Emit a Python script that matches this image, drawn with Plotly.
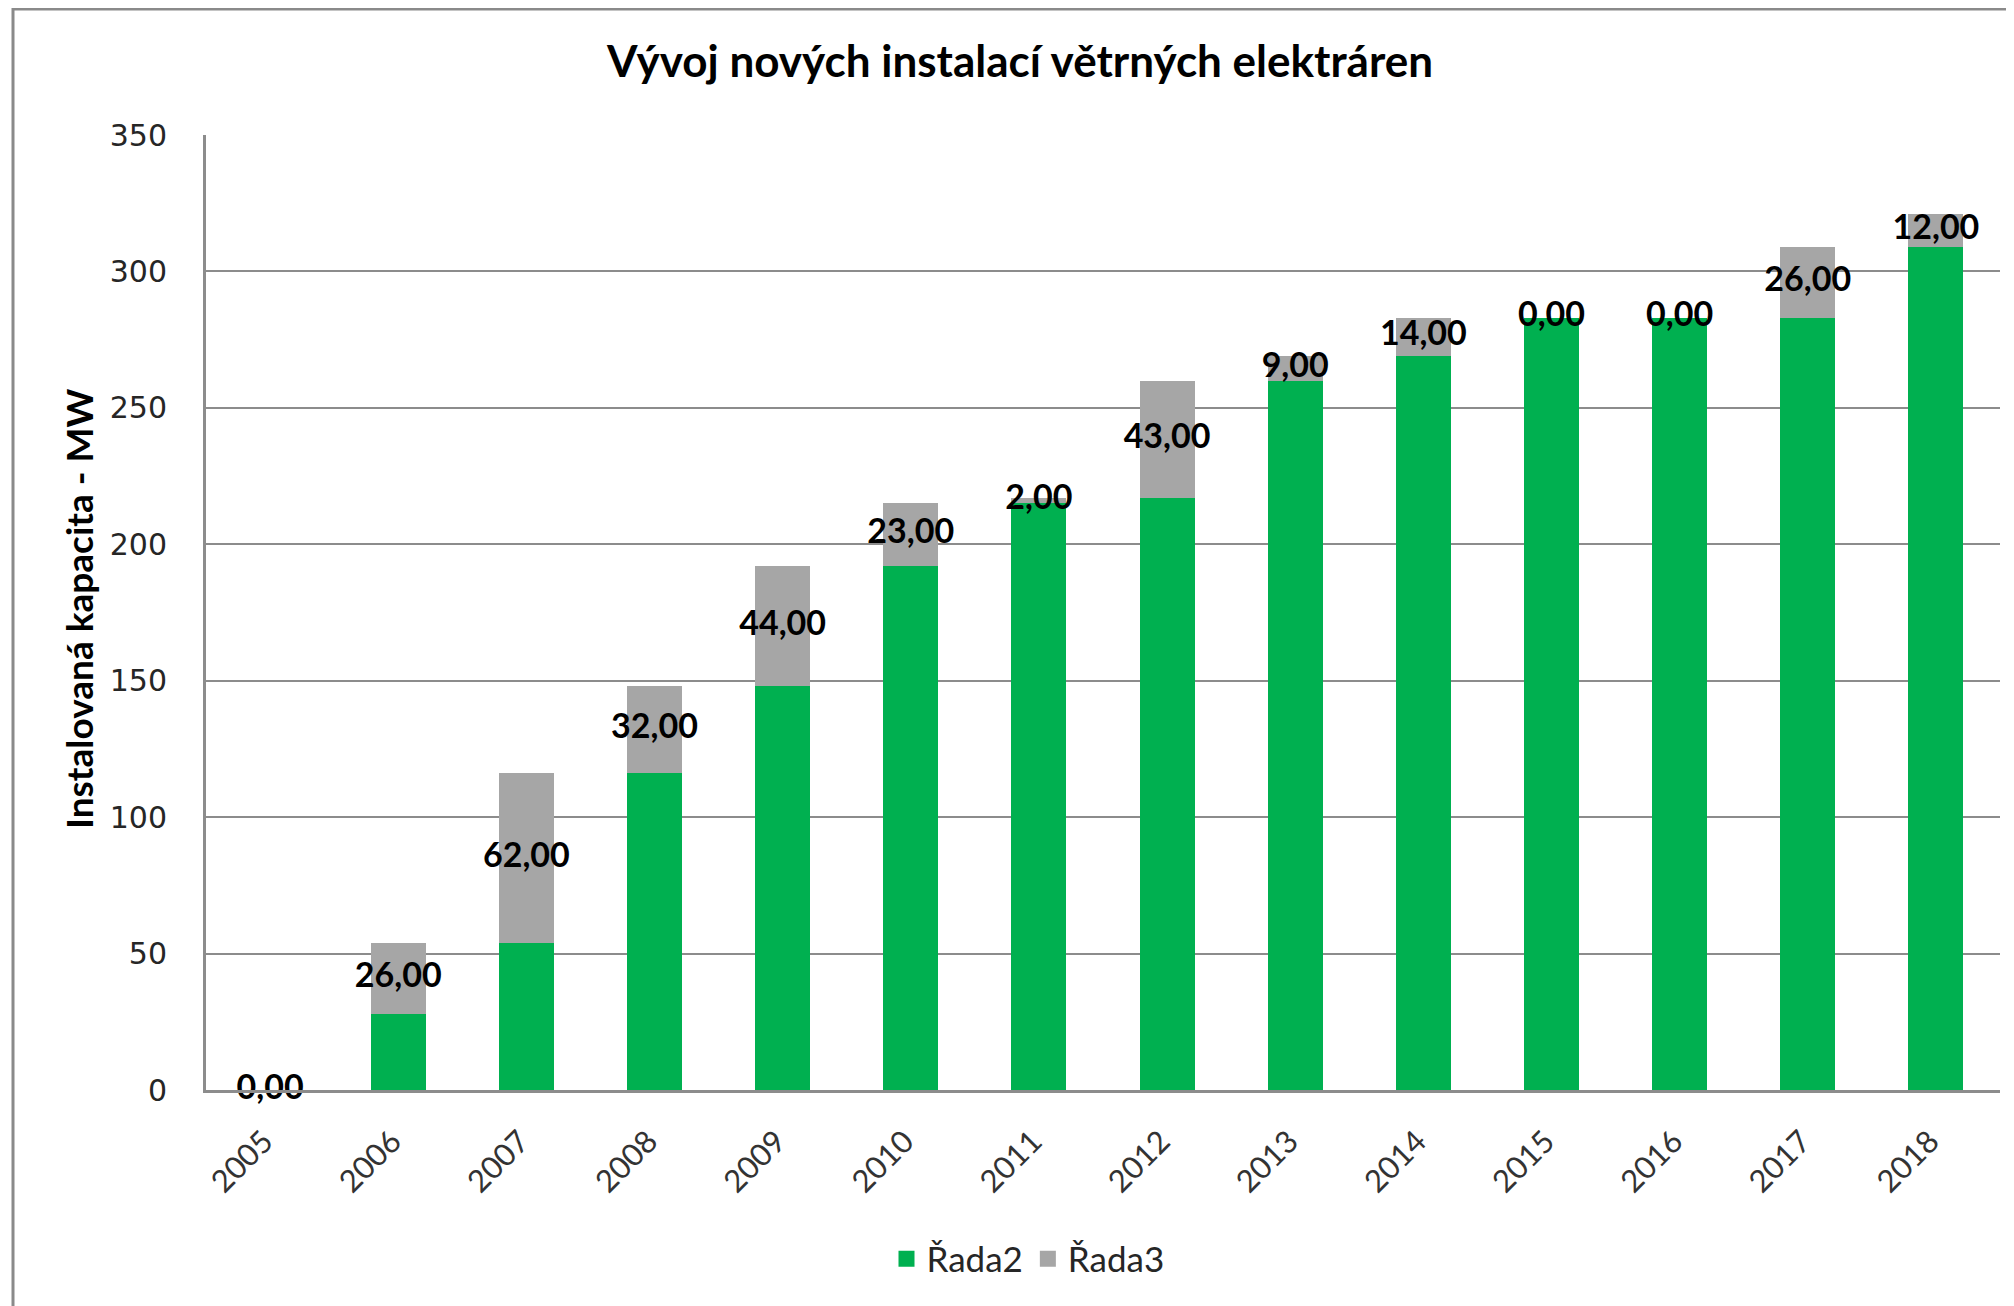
import plotly.graph_objects as go

# roky a hodnoty (MW)
roky = ['2005', '2006', '2007', '2008', '2009', '2010', '2011',
        '2012', '2013', '2014', '2015', '2016', '2017', '2018']
rada2 = [0, 28, 54, 116, 148, 192, 215, 217, 260, 269, 283, 283, 283, 309]   # stav z predchoziho roku
rada3 = [0, 26, 62, 32, 44, 23, 2, 43, 9, 14, 0, 0, 26, 12]                  # nove instalace
popisky = ['%.2f' % v for v in rada3]
popisky = [p.replace('.', ',') for p in popisky]
y_ticks = [0, 50, 100, 150, 200, 250, 300, 350]

GREEN = '#00B050'
GREY = '#A6A6A6'
LINE = '#8C8C8C'

# stranka ma body margin 8px, proto je figura o 8px mensi
W, H = 2006, 1298
L, R, T, B = 198, 14, 127, 216
PW, PH = W - L - R, H - T - B

trace1 = go.Bar(x=roky, y=rada2, name='Řada2', marker=dict(color=GREEN, line=dict(width=0)),
                showlegend=False)
trace2 = go.Bar(x=roky, y=rada3, name='Řada3', marker=dict(color=GREY, line=dict(width=0)),
                showlegend=False)
# popisky uprostred sedeho segmentu
trace3 = go.Scatter(x=roky, y=[a + b / 2 for a, b in zip(rada2, rada3)], text=popisky,
                    mode='text', textposition='middle center', showlegend=False, hoverinfo='skip',
                    cliponaxis=False,
                    textfont=dict(family='Lato', size=34, color='black', weight='bold'))
# legenda s vetsimi ctverecky
leg1 = go.Scatter(x=[None], y=[None], mode='markers', name='Řada2',
                  marker=dict(symbol='square', size=24, color=GREEN))
leg2 = go.Scatter(x=[None], y=[None], mode='markers', name='Řada3',
                  marker=dict(symbol='square', size=24, color=GREY))

fig = go.Figure(data=[trace1, trace2, trace3, leg1, leg2])

fig.update_layout(
    width=W, height=H,
    margin=dict(l=L, r=R, t=T, b=B),
    paper_bgcolor='white', plot_bgcolor='white',
    barmode='stack', bargap=0.57,
    font=dict(family='Lato', color='#262626'),
    title=dict(text='<b>Vývoj nových instalací větrných elektráren</b>',
               x=1012 / W, xref='container', xanchor='center',
               y=1 - 54 / H, yref='container', yanchor='middle',
               font=dict(family='Lato', size=44, color='black')),
    legend=dict(orientation='h', x=(1020 - L) / PW, xanchor='center',
                y=(H - B - 1251) / PH, yanchor='middle',
                font=dict(family='Lato', size=35, color='#262626'),
                traceorder='normal', itemwidth=30),
    xaxis=dict(type='category', range=[-0.5, len(roky) - 0.5], tickangle=-45,
               showgrid=False, showline=True,
               linecolor=LINE, linewidth=3, ticks='', ticklabelstandoff=18, ticklabelshift=-6,
               tickfont=dict(family='Lato', size=31, color='#333333')),
    yaxis=dict(range=[0, 350], tickvals=y_ticks, showgrid=True, gridcolor=LINE, gridwidth=2,
               showline=True, linecolor=LINE, linewidth=3, ticks='', ticklabelstandoff=30,
               zeroline=False,
               tickfont=dict(family='DejaVu Sans', size=30, color='#262626')),
    annotations=[dict(text='<b>Instalovaná kapacita - MW</b>', textangle=-90,
                      xref='paper', yref='paper', x=(70 - L) / PW, y=(H - B - 601) / PH,
                      xanchor='center', yanchor='middle', showarrow=False,
                      font=dict(family='Lato', size=37, color='black'))],
    shapes=[dict(type='rect', xref='paper', yref='paper',
                 x0=(5 - L) / PW, x1=(2030 - L) / PW,
                 y0=(H - B - 1330) / PH, y1=(H - B - 1) / PH,
                 line=dict(color='#8A8A8A', width=3), layer='below')],
)

fig.write_html("out.html")
